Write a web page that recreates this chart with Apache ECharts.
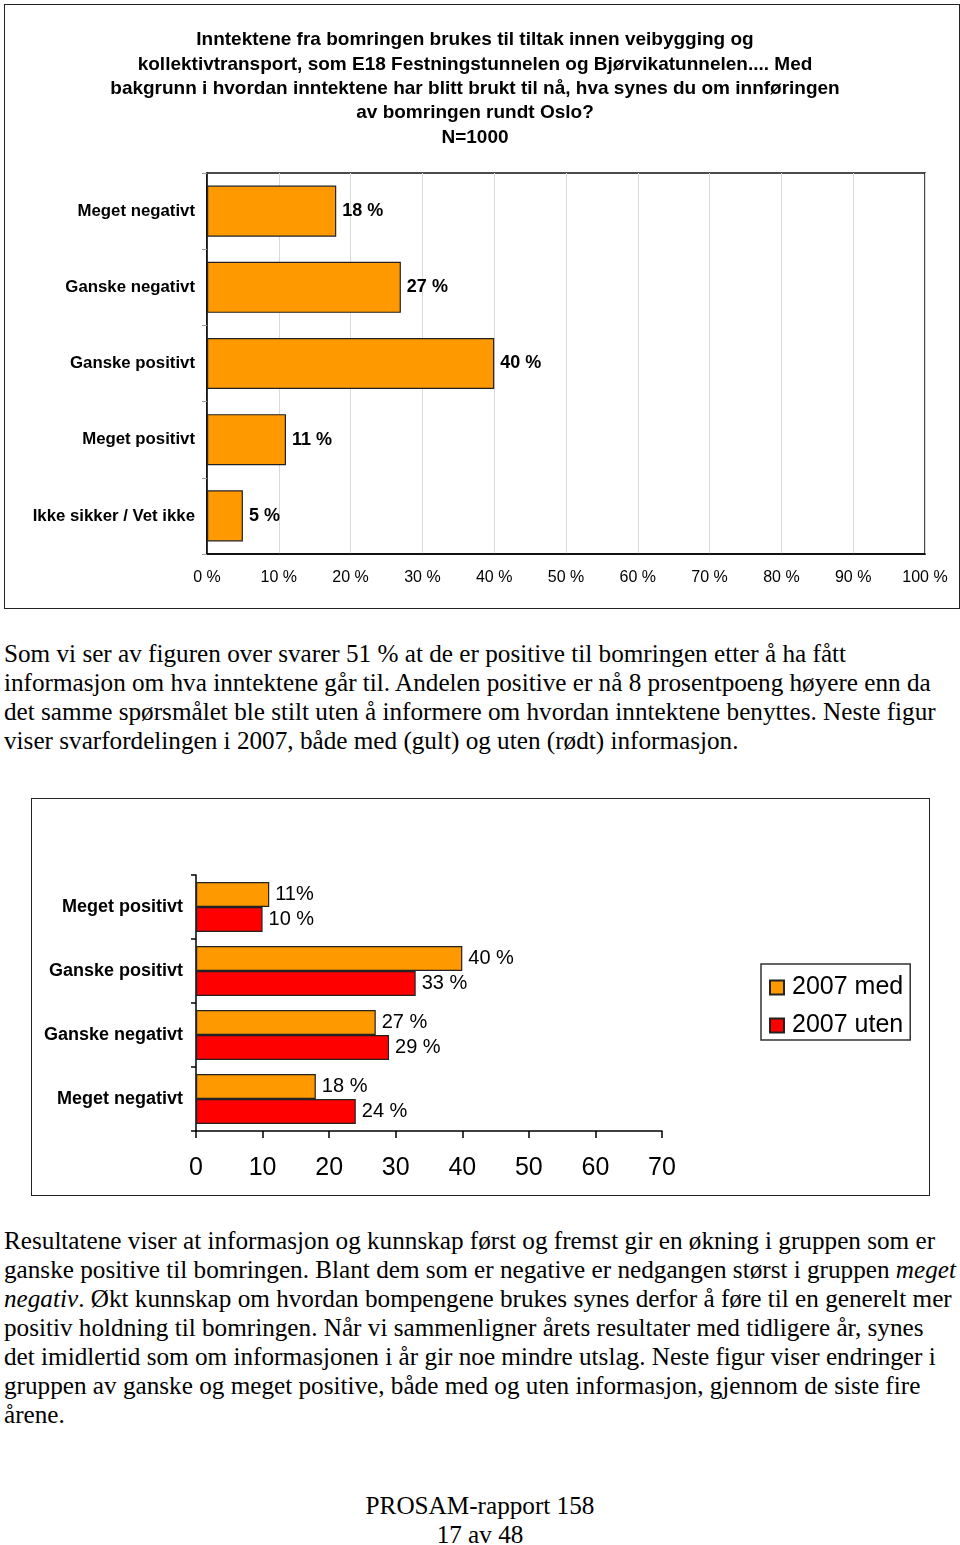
<!DOCTYPE html>
<html><head><meta charset="utf-8">
<script src="https://cdn.jsdelivr.net/npm/echarts@6/dist/echarts.min.js"></script>
<style>
html,body{margin:0;padding:0;background:#fff;}
body{width:960px;height:1545px;position:relative;overflow:hidden;}
.box{position:absolute;box-sizing:border-box;border:1px solid #222;}
.txt{position:absolute;left:4px;font-family:"Liberation Serif","Times New Roman",serif;font-size:25.2px;line-height:29px;color:#000;}
.txt div{white-space:nowrap;}
.foot{position:absolute;left:0;width:960px;text-align:center;font-family:"Liberation Serif",serif;font-size:25.2px;line-height:29px;}
</style></head><body>
<div id="c1" class="box" style="left:4px;top:4px;width:956px;height:605px;"></div>
<div class="txt" style="top:639px;">
<div>Som vi ser av figuren over svarer 51 % at de er positive til bomringen etter å ha fått</div>
<div>informasjon om hva inntektene går til. Andelen positive er nå 8 prosentpoeng høyere enn da</div>
<div>det samme spørsmålet ble stilt uten å informere om hvordan inntektene benyttes. Neste figur</div>
<div>viser svarfordelingen i 2007, både med (gult) og uten (rødt) informasjon.</div>
</div>
<div id="c2" class="box" style="left:31px;top:798px;width:899px;height:398px;"></div>
<div class="txt" style="top:1226px;">
<div>Resultatene viser at informasjon og kunnskap først og fremst gir en økning i gruppen som er</div>
<div>ganske positive til bomringen. Blant dem som er negative er nedgangen størst i gruppen <i>meget</i></div>
<div><i>negativ</i>. Økt kunnskap om hvordan bompengene brukes synes derfor å føre til en generelt mer</div>
<div>positiv holdning til bomringen. Når vi sammenligner årets resultater med tidligere år, synes</div>
<div>det imidlertid som om informasjonen i år gir noe mindre utslag. Neste figur viser endringer i</div>
<div>gruppen av ganske og meget positive, både med og uten informasjon, gjennom de siste fire</div>
<div>årene.</div>
</div>
<div class="foot" style="top:1491px;">PROSAM-rapport 158<br>17 av 48</div>
<script>
// Chart 1 data
var cats1 = ['Meget negativt','Ganske negativt','Ganske positivt','Meget positivt','Ikke sikker / Vet ikke'];
var vals1 = [18, 27, 40, 11, 5];
var ticks1 = ['0 %','10 %','20 %','30 %','40 %','50 %','60 %','70 %','80 %','90 %','100 %'];
var title1 = ['Inntektene fra bomringen brukes til tiltak innen veibygging og',
  'kollektivtransport, som E18 Festningstunnelen og Bjørvikatunnelen.... Med',
  'bakgrunn i hvordan inntektene har blitt brukt til nå, hva synes du om innføringen',
  'av bomringen rundt Oslo?',
  'N=1000'];
// Chart 2 data
var cats2 = ['Meget positivt','Ganske positivt','Ganske negativt','Meget negativt'];
var valsMed = [11, 40, 27, 18];
var valsUten = [10, 33, 29, 24];
var labMed = ['11%','40 %','27 %','18 %'];
var labUten = ['10 %','33 %','29 %','24 %'];
var seriesNames = ['2007 med','2007 uten'];

var F = '"Liberation Sans", Arial, sans-serif';
var ORANGE = '#FF9900', RED = '#FF0000';

var titleEls = title1.map(function(t, i){
  return {type:'text', x:470, y:35 + i*24.4,
    style:{text:t, align:'center', verticalAlign:'middle', font:'bold 19px "Liberation Sans", Arial, sans-serif', fill:'#000'}};
});

var c1 = echarts.init(document.getElementById('c1'), null, {renderer:'canvas'});
c1.setOption({
  animation:false,
  graphic:titleEls,
  grid:{left:202, top:168, width:718, height:381, show:true, borderColor:'#111', borderWidth:1.5, containLabel:false},
  xAxis:{type:'value', min:0, max:100, interval:10,
    axisLine:{show:true, lineStyle:{color:'#000', width:1.5}},
    axisTick:{show:false},
    splitLine:{show:true, lineStyle:{color:'#d9d9d9', width:1}},
    axisLabel:{formatter:function(v){return ticks1[Math.round(v/10)];}, fontFamily:F, fontSize:16, color:'#000', margin:16}
  },
  yAxis:{type:'category', data:cats1, inverse:true,
    axisLine:{show:true, lineStyle:{color:'#000', width:1.5}},
    axisTick:{show:true, length:5, lineStyle:{color:'#999'}},
    axisLabel:{fontFamily:F, fontSize:16.8, fontWeight:'bold', color:'#000', margin:12}
  },
  series:[{type:'bar', data:vals1, barCategoryGap:'33%',
    itemStyle:{color:ORANGE, borderColor:'#222', borderWidth:1.2},
    label:{show:true, position:'right', distance:6, formatter:'{c} %', fontFamily:F, fontSize:18, fontWeight:'bold', color:'#000'}
  }]
});

var c2 = echarts.init(document.getElementById('c2'), null, {renderer:'canvas'});
c2.setOption({
  animation:false,
  grid:{left:164, top:76, width:466, height:256, containLabel:false},
  legend:{orient:'vertical', left:729, top:165, data:seriesNames,
    borderColor:'#333', borderWidth:1.5, padding:[11,7,2,8], itemGap:13,
    itemWidth:14, itemHeight:14, icon:'rect',
    textStyle:{fontFamily:F, fontSize:25, color:'#000', padding:[0,0,0,3]}
  },
  xAxis:{type:'value', min:0, max:70, interval:10,
    axisLine:{show:true, lineStyle:{color:'#000', width:1.5}},
    axisTick:{show:true, length:7, inside:false, lineStyle:{color:'#000', width:1.5}},
    splitLine:{show:false},
    axisLabel:{fontFamily:F, fontSize:25, color:'#000', margin:25}
  },
  yAxis:{type:'category', data:cats2, inverse:true,
    axisLine:{show:true, lineStyle:{color:'#000', width:1.5}},
    axisTick:{show:true, length:5, lineStyle:{color:'#000', width:1.5}},
    axisLabel:{fontFamily:F, fontSize:18, fontWeight:'bold', color:'#000', margin:13}
  },
  series:[
    {name:seriesNames[0], type:'bar', data:valsMed, barGap:'0%', barCategoryGap:'22%',
      itemStyle:{color:ORANGE, borderColor:'#222', borderWidth:1.2},
      label:{show:true, position:'right', distance:6, formatter:function(p){return labMed[p.dataIndex];}, fontFamily:F, fontSize:20, color:'#000'}
    },
    {name:seriesNames[1], type:'bar', data:valsUten, barGap:'0%', barCategoryGap:'22%',
      itemStyle:{color:RED, borderColor:'#222', borderWidth:1.2},
      label:{show:true, position:'right', distance:6, formatter:function(p){return labUten[p.dataIndex];}, fontFamily:F, fontSize:20, color:'#000'}
    }
  ]
});
</script>
</body></html>
